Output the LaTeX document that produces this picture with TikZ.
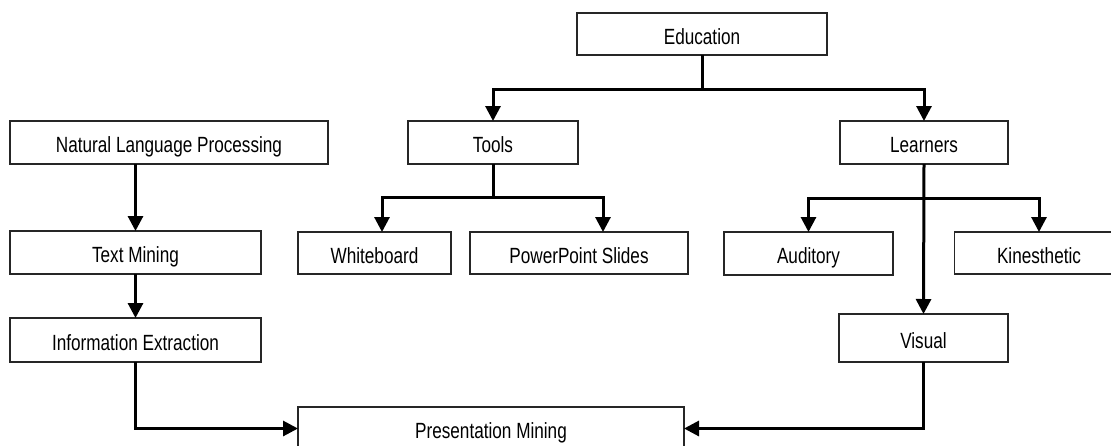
\documentclass[tikz,border=0pt]{standalone}
\usepackage{fontspec}
\setmainfont{Liberation Sans}[FakeStretch=0.78]
\usetikzlibrary{arrows.meta}
\begin{document}
\begin{tikzpicture}[x=1pt,y=-1pt,
  box/.style={draw=black!85, line width=1.2pt, inner sep=0pt, outer sep=0pt,
    font=\fontsize{22}{26}\selectfont, text height=20pt, text depth=0pt,
    minimum height=43pt},
  link/.style={line width=3pt, line cap=butt},
  arr/.style={link, -{Triangle[length=15pt,width=15pt]}}]
\useasboundingbox (0,0) rectangle (1111,445);
\clip (0,0) rectangle (1111,445);

% boxes
\node[box, minimum width=250pt, minimum height=42pt] (edu) at (702,34) {Education};
\node[box, minimum width=170pt] (tools) at (493,142.5) {Tools};
\node[box, minimum width=168pt] (learn) at (924,142.5) {Learners};
\node[box, minimum width=318pt] (nlp) at (169,142.5) {Natural Language Processing};
\node[box, minimum width=251pt] (tm) at (135.5,252.5) {Text Mining};
\node[box, minimum width=251pt, minimum height=44pt] (ie) at (135.5,340) {Information Extraction};
\node[box, minimum width=153pt, minimum height=42pt] (wb) at (374.5,253) {Whiteboard};
\node[box, minimum width=218pt, minimum height=42pt] (pps) at (579,253) {PowerPoint Slides};
\node[box, minimum width=169pt] (aud) at (808.5,253.5) {Auditory};
\node[box, minimum width=169pt, minimum height=42pt] (kin) at (1039,253) {Kinesthetic};
\node[box, minimum width=169pt, minimum height=48pt] (vis) at (923.5,338) {Visual};
\node[box, minimum width=386pt] (pm) at (491,428.5) {Presentation Mining};

% branch points
\coordinate (eduj) at (702,89);
\coordinate (toolsj) at (493,197);
\coordinate (learnj) at (924,198);
\coordinate (wbin) at (382,232);
\coordinate (ppsin) at (603,232);

% Education to Tools and Learners
\draw[link] (edu.south) -- (eduj);
\draw[arr] (eduj) -| (tools.north);
\draw[arr] (eduj) -| (learn.north);

% Tools to its two children
\draw[link] (tools.south) -- (toolsj);
\draw[arr] (toolsj) -| (wbin);
\draw[arr] (toolsj) -| (ppsin);

% Learners to its three children
\draw[arr] (learn.south) -- (vis.north);
\draw[arr] (learnj) -| (aud.north);
\draw[arr] (learnj) -| (kin.north);

% left column
\draw[arr] (tm.north |- nlp.south) -- (tm.north);
\draw[arr] (tm.south) -- (ie.north);

% into Presentation Mining
\draw[arr] (ie.south) |- (pm.west);
\draw[arr] (vis.south) |- (pm.east);
\end{tikzpicture}
\end{document}
